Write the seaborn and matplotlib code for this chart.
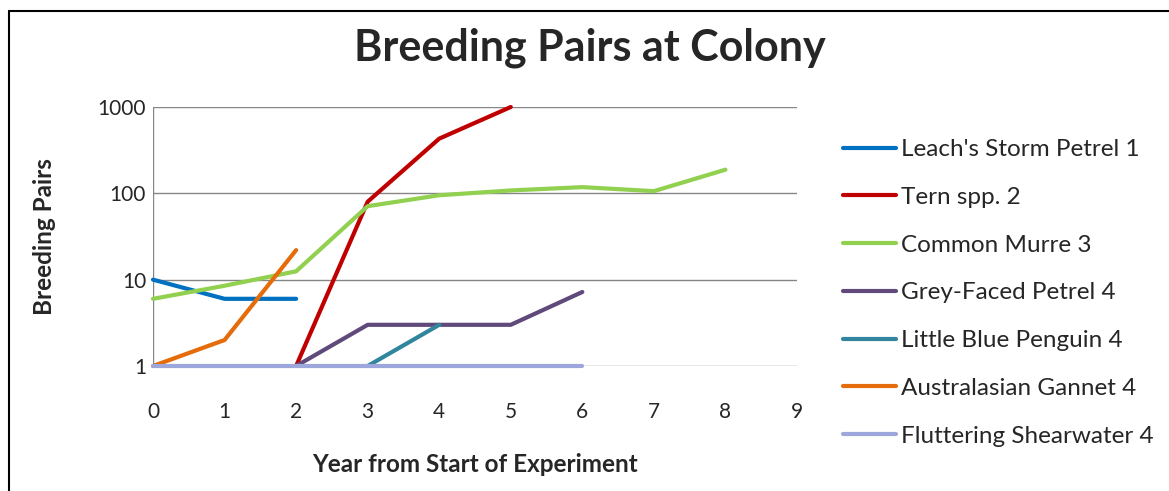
import numpy as np
import pandas as pd
import matplotlib
matplotlib.use('Agg')
import matplotlib.pyplot as plt
import seaborn as sns
from matplotlib.lines import Line2D

years = list(range(10))
species = ["Leach's Storm Petrel 1", "Tern spp. 2", "Common Murre 3",
           "Grey-Faced Petrel 4", "Little Blue Penguin 4",
           "Australasian Gannet 4", "Fluttering Shearwater 4"]

leach = [10, 6, 6, None, None, None, None, None, None]
tern = [None, None, 1, 80, 430, 1000, None, None, None]
murre = [6, 8.5, 12.5, 71, 95, 108, 118, 106, 188]
grey = [None, None, 1, 3, 3, 3, 7.2, None, None]
penguin = [None, None, None, 1, 3, None, None, None, None]
gannet = [1, 2, 22, None, None, None, None, None, None]
shearwater = [1, 1, 1, 1, 1, 1, 1, None, None]

colors = ['#0070C0', '#C00000', '#92D050', '#604A7B', '#31859C', '#E46C0A', '#9DA7DB']

series = [leach, tern, murre, grey, penguin, gannet, shearwater]
rows = []
for name, vals in zip(species, series):
    for yr, v in zip(years, vals):
        if v is not None:
            rows.append({'year': yr, 'pairs': v, 'species': name})
df = pd.DataFrame(rows)

sns.set_style('white')
plt.rcParams['font.family'] = ['Lato', 'DejaVu Sans']

fig = plt.figure(figsize=(11.69, 4.91), dpi=100)
ax = fig.add_axes([153/1169, 1 - 366/491, (797-153)/1169, (366-107)/491])

for s in ax.spines.values():
    s.set_visible(False)
ax.set_yscale('log')
ax.set_ylim(1, 1000)
ax.set_xlim(0, 9)
for yv in [1, 10, 100, 1000]:
    ax.axhline(yv, color='#868686', lw=1, zorder=0)
ax.axvline(0, color='#868686', lw=1, zorder=0)

sns.lineplot(data=df, x='year', y='pairs', hue='species', hue_order=species,
             palette=dict(zip(species, colors)), linewidth=3, ax=ax,
             legend=False, clip_on=False, estimator=None)

ax.set_xticks(years)
ax.set_xticklabels([str(y) for y in years], fontsize=15)
ax.set_yticks([1, 10, 100, 1000])
ax.set_yticklabels(['1', '10', '100', '1000'], fontsize=15)
ax.yaxis.set_minor_locator(matplotlib.ticker.NullLocator())
ax.tick_params(length=0)
ax.tick_params(axis='x', pad=26)
ax.tick_params(axis='y', pad=5)
ax.set_xlabel('Year from Start of Experiment', fontsize=17.5, fontweight='bold', labelpad=22)
ax.set_ylabel('Breeding Pairs', fontsize=17.5, fontweight='bold', labelpad=30)

fig.text(590/1169, 1 - 48/491, 'Breeding Pairs at Colony', fontsize=31,
         fontweight='bold', ha='center', va='center')

handles = [Line2D([0], [0], color=c, lw=3) for c in colors]
fig.legend(handles, species, loc='upper left', bbox_to_anchor=(843/1169, 1 - 139/491),
           frameon=False, fontsize=17.5, handlelength=2.2, handletextpad=0.2,
           labelspacing=1.1, borderpad=0, borderaxespad=0)

# chart border (left and top edges visible)
fig.add_artist(Line2D([8.5/1169, 8.5/1169], [0, 1 - 10.5/491], color='black', lw=1.5,
                      transform=fig.transFigure))
fig.add_artist(Line2D([8.5/1169, 1], [1 - 10.5/491, 1 - 10.5/491], color='black', lw=1.5,
                      transform=fig.transFigure))

fig.savefig('out.png', dpi=100)
